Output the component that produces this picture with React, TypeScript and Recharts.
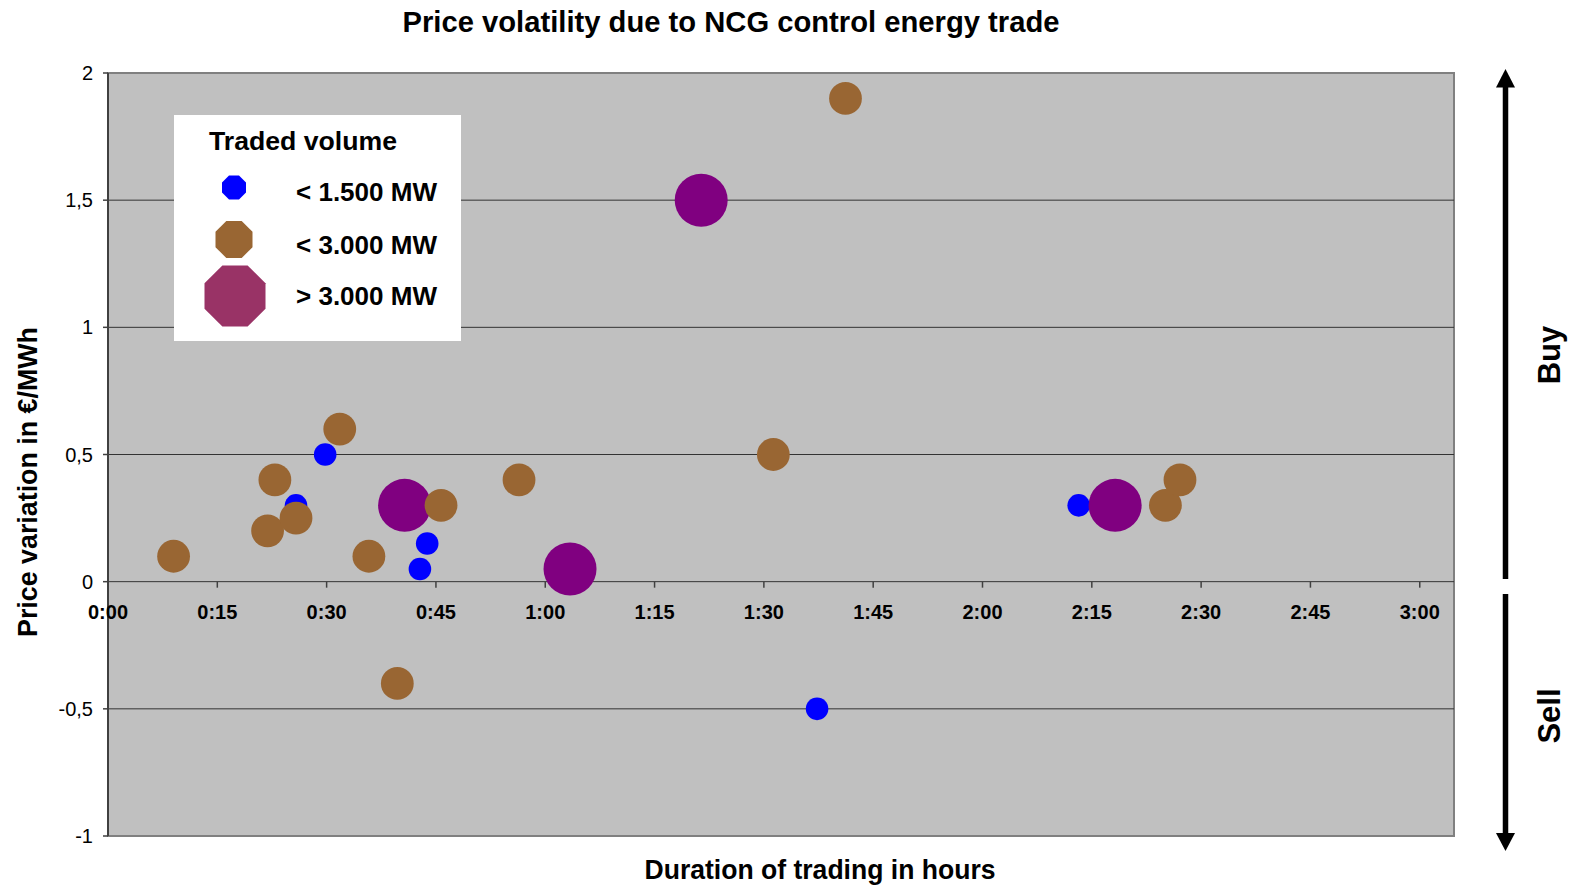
import React from "react";
import {
  ReferenceArea,
  ReferenceLine,
  Scatter,
  ScatterChart,
  XAxis,
  YAxis,
} from "recharts";

// trading duration in minutes, price variation in EUR/MWh
const smallMinutes = [25.8, 29.8, 42.8, 43.8, 97.3, 133.2];
const smallValues = [0.3, 0.5, 0.05, 0.15, -0.5, 0.3];

const mediumMinutes = [9.0, 21.9, 22.9, 25.8, 31.8, 35.8, 39.7, 45.7, 56.4, 91.3, 101.2, 145.1, 147.1];
const mediumValues = [0.1, 0.2, 0.4, 0.25, 0.6, 0.1, -0.4, 0.3, 0.4, 0.5, 1.9, 0.3, 0.4];

const largeMinutes = [40.7, 63.4, 81.4, 138.2];
const largeValues = [0.3, 0.05, 1.5, 0.3];

const xTicks = [0, 15, 30, 45, 60, 75, 90, 105, 120, 135, 150, 165, 180];
const yTicks = [-1, -0.5, 0, 0.5, 1, 1.5, 2];
const gridValues = [-0.5, 0, 0.5, 1, 1.5];

const X_MAX = 184.7;
const Y_MIN = -1;
const Y_MAX = 2;

const W = 1570;
const H = 887;
const TOP = 73;
const PLOT_BOTTOM = 836;
const X_AXIS_H = 30;
const PLOT_H = PLOT_BOTTOM - TOP;
const ZERO_Y = TOP + (PLOT_H * (Y_MAX - 0)) / (Y_MAX - Y_MIN);

const FONT = "'Liberation Sans', Arial, sans-serif";

const toPoints = (xs: number[], ys: number[]) => xs.map((x, i) => ({ x, y: ys[i] }));
const small = toPoints(smallMinutes, smallValues);
const medium = toPoints(mediumMinutes, mediumValues);
const large = toPoints(largeMinutes, largeValues);

const fmtTime = (m: number) => `${Math.floor(m / 60)}:${String(m % 60).padStart(2, "0")}`;

const bubble = (r: number, fill: string) => (p: any) =>
  <circle cx={p.cx} cy={p.cy} r={r} fill={fill} />;

function XTick(props: any) {
  const { x, payload } = props;
  return (
    <g>
      <line x1={x} x2={x} y1={ZERO_Y} y2={ZERO_Y + 6} stroke="#404040" strokeWidth={1.5} />
      <text x={x} y={ZERO_Y + 37} textAnchor="middle" fontFamily={FONT} fontWeight="bold" fontSize={20} fill="#000">
        {fmtTime(payload.value)}
      </text>
    </g>
  );
}

function octagon(cx: number, cy: number, halfWidth: number) {
  const R = halfWidth / Math.cos(Math.PI / 8);
  const pts = [];
  for (let k = 0; k < 8; k++) {
    const a = Math.PI / 8 + (k * Math.PI) / 4;
    pts.push(`${cx + R * Math.cos(a)},${cy + R * Math.sin(a)}`);
  }
  return pts.join(" ");
}

function Overlay() {
  const txt = { fontFamily: FONT, fontWeight: "bold" as const, fill: "#000" };
  return (
    <svg width={W} height={H} style={{ position: "absolute", left: 0, top: 0, pointerEvents: "none" }}>
      <text x={731} y={32} textAnchor="middle" fontSize={30} textLength={657} lengthAdjust="spacingAndGlyphs" {...txt}>
        Price volatility due to NCG control energy trade
      </text>
      <text x={820} y={879} textAnchor="middle" fontSize={27} textLength={351} lengthAdjust="spacingAndGlyphs" {...txt}>
        Duration of trading in hours
      </text>
      <text
        transform="translate(37,482) rotate(-90)"
        textAnchor="middle"
        fontSize={27}
        textLength={310}
        lengthAdjust="spacingAndGlyphs"
        {...txt}
      >
        Price variation in €/MWh
      </text>

      {/* buy / sell arrows */}
      <line x1={1505.5} x2={1505.5} y1={86} y2={579} stroke="#000" strokeWidth={5.5} />
      <polygon points="1496,87.5 1515,87.5 1505.5,69" fill="#000" />
      <line x1={1505.5} x2={1505.5} y1={594} y2={834} stroke="#000" strokeWidth={5.5} />
      <polygon points="1496,833 1515,833 1505.5,851" fill="#000" />
      <text transform="translate(1560,355) rotate(-90)" textAnchor="middle" fontSize={31} {...txt}>
        Buy
      </text>
      <text transform="translate(1560,716) rotate(-90)" textAnchor="middle" fontSize={31} {...txt}>
        Sell
      </text>

      {/* legend */}
      <rect x={174} y={115} width={287} height={226} fill="#fff" />
      <text x={209} y={150} fontSize={25} textLength={188} lengthAdjust="spacingAndGlyphs" {...txt}>
        Traded volume
      </text>
      <polygon points={octagon(234, 187.5, 12)} fill="#0000FF" />
      <polygon points={octagon(234, 239.5, 18.5)} fill="#996633" />
      <polygon points={octagon(235, 296, 30.5)} fill="#993366" />
      <text x={296} y={201} fontSize={26} textLength={141} lengthAdjust="spacingAndGlyphs" {...txt}>
        {"< 1.500 MW"}
      </text>
      <text x={296} y={254} fontSize={26} textLength={141} lengthAdjust="spacingAndGlyphs" {...txt}>
        {"< 3.000 MW"}
      </text>
      <text x={296} y={305} fontSize={26} textLength={141} lengthAdjust="spacingAndGlyphs" {...txt}>
        {"> 3.000 MW"}
      </text>
    </svg>
  );
}

export default function App() {
  return (
    <div style={{ position: "relative", width: W, height: H, background: "#fff" }}>
      <style>{"body{margin:0}"}</style>
      <ScatterChart
        width={W}
        height={H}
        margin={{ top: TOP, right: 116, bottom: H - PLOT_BOTTOM - X_AXIS_H, left: 48 }}
      >
        <ReferenceArea
          x1={0}
          x2={X_MAX}
          y1={Y_MIN}
          y2={Y_MAX}
          fill="#C0C0C0"
          fillOpacity={1}
          stroke="#808080"
          strokeWidth={2}
        />
        {gridValues.map((v) => (
          <ReferenceLine key={v} y={v} stroke="#333" strokeWidth={1} />
        ))}
        <XAxis
          type="number"
          dataKey="x"
          domain={[0, X_MAX]}
          ticks={xTicks}
          height={X_AXIS_H}
          axisLine={false}
          tickLine={false}
          tick={<XTick />}
          interval={0}
        />
        <YAxis
          type="number"
          dataKey="y"
          domain={[Y_MIN, Y_MAX]}
          ticks={yTicks}
          width={60}
          interval={0}
          axisLine={{ stroke: "#404040", strokeWidth: 2 }}
          tickLine={{ stroke: "#404040", strokeWidth: 1.5 }}
          tickSize={5}
          tickMargin={10}
          tick={{ fill: "#000", fontSize: 20, fontFamily: FONT }}
          tickFormatter={(v: number) => String(v).replace(".", ",")}
        />
        <Scatter data={small} shape={bubble(11.3, "#0000FF")} isAnimationActive={false} />
        <Scatter data={large} shape={bubble(26.5, "#800080")} isAnimationActive={false} />
        <Scatter data={medium} shape={bubble(16.4, "#996633")} isAnimationActive={false} />
      </ScatterChart>
      <Overlay />
    </div>
  );
}
